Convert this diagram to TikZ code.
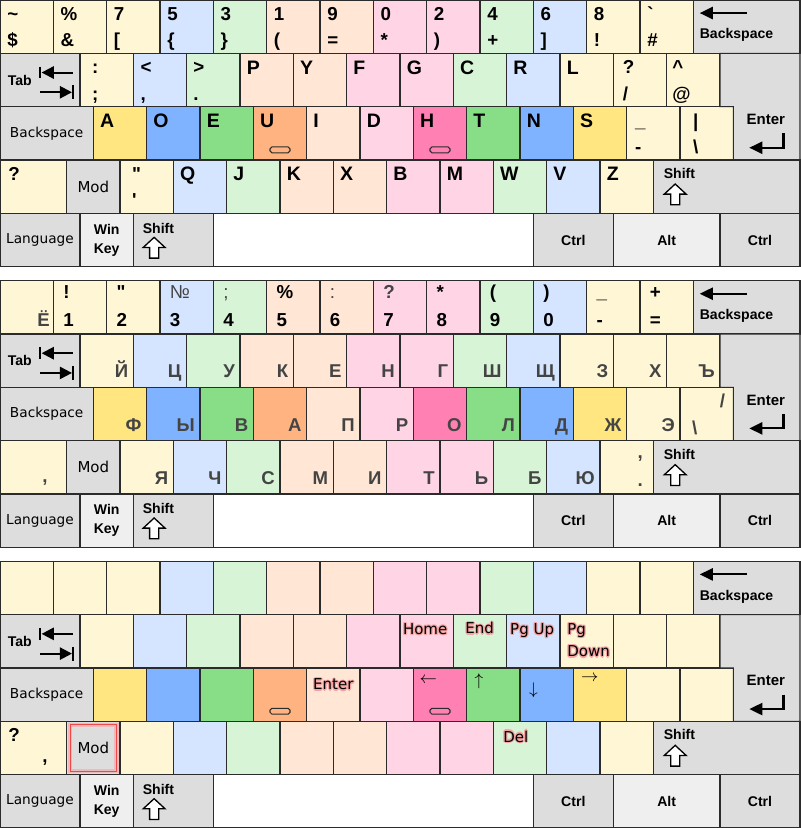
\documentclass[tikz,border=0pt]{standalone}
\usepackage{fontspec}
\setmainfont{Liberation Sans}
\newfontfamily\vfont{DejaVu Sans}
\usetikzlibrary{positioning,calc,arrows.meta}
\tikzset{>=latex}

\definecolor{ylw}{HTML}{FFF6D5}
\definecolor{blu}{HTML}{D5E5FF}
\definecolor{grn}{HTML}{D7F4D7}
\definecolor{pch}{HTML}{FFE6D5}
\definecolor{pnk}{HTML}{FFD5E5}
\definecolor{ylwD}{HTML}{FFE680}
\definecolor{bluD}{HTML}{80B3FF}
\definecolor{grnD}{HTML}{87DE87}
\definecolor{orgD}{HTML}{FFB380}
\definecolor{pnkD}{HTML}{FF80B2}
\definecolor{gry}{HTML}{DDDDDD}
\definecolor{lgry}{HTML}{EFEFEF}
\definecolor{keyline}{HTML}{2B2B2B}
\definecolor{cyrgray}{HTML}{444444}
\definecolor{glow}{HTML}{F5A3A3}
\definecolor{hlred}{HTML}{F04848}

% black text with a soft red halo
\newcommand{\halo}[1]{\leavevmode
  \rlap{\color{glow}\kern.65pt#1}\rlap{\color{glow}\kern-.65pt#1}%
  \rlap{\color{glow}\raisebox{.65pt}{#1}}\rlap{\color{glow}\raisebox{-.65pt}{#1}}%
  \rlap{\color{glow}\kern.45pt\raisebox{.45pt}{#1}}\rlap{\color{glow}\kern-.45pt\raisebox{.45pt}{#1}}%
  \rlap{\color{glow}\kern.45pt\raisebox{-.45pt}{#1}}\rlap{\color{glow}\kern-.45pt\raisebox{-.45pt}{#1}}#1}

\tikzset{
  key/.style={draw=keyline, line width=.55pt, inner sep=0pt, outer sep=0pt, minimum height=1cm},
  sym/.style={inner sep=0pt, anchor=base west, font=\bfseries\fontsize{10}{12}\selectfont},
  ltr/.style={inner sep=0pt, anchor=base west, font=\bfseries\fontsize{10.4}{12}\selectfont},
  cyr/.style={inner sep=0pt, anchor=base east, text=cyrgray, font=\bfseries\fontsize{9.9}{12}\selectfont},
  small/.style={inner sep=0pt, font=\bfseries\fontsize{7.5}{10}\selectfont},
  soft/.style={inner sep=0pt, font=\vfont\fontsize{7.3}{9}\selectfont},
  func/.style={inner sep=0pt, anchor=base west, font=\vfont\fontsize{8}{10}\selectfont},
  arw/.style={inner sep=0pt, font=\fontsize{9}{11}\selectfont},
  bump/.style={draw=keyline, line width=.55pt, rounded corners=1pt, inner sep=0pt,
    minimum width=0.375cm, minimum height=0.11cm},
  hl/.style={draw=hlred, line width=.6pt, inner sep=0pt,
    preaction={draw=glow, line width=2.4pt, opacity=.6}},
  tip/.style={-{Triangle[length=7pt,width=6.5pt]}},
  shiftup/.pic={\draw[line width=.7pt, fill=white, line join=miter]
    (0,0) -- (0.205,-0.19) -- (0.085,-0.19) -- (0.085,-0.39) -- (-0.085,-0.39)
    -- (-0.085,-0.19) -- (-0.205,-0.19) -- cycle;}
}

\begin{document}
\begin{tikzpicture}
\useasboundingbox (0,0) rectangle (15,-15.525);

% three keyboards, same keys and colours
\foreach \kb in {0,1,2} {
  \foreach \rw in {1,...,5}
    \coordinate (k\kb-\rw-0) at (0,{-\kb*5.2625-\rw+0.5});
  % number row
  \foreach \w/\cl [count=\n, remember=\n as \p (initially 0)] in
    {1/ylw,1/ylw,1/ylw,1/blu,1/grn,1/pch,1/pch,1/pnk,1/pnk,1/grn,1/blu,1/ylw,1/ylw,2/gry}
    \node[key, fill=\cl, minimum width=\w cm, right=0pt of k\kb-1-\p] (k\kb-1-\n) {};
  % upper row
  \foreach \w/\cl [count=\n, remember=\n as \p (initially 0)] in
    {1.5/gry,1/ylw,1/blu,1/grn,1/pch,1/pch,1/pnk,1/pnk,1/grn,1/blu,1/ylw,1/ylw,1/ylw}
    \node[key, fill=\cl, minimum width=\w cm, right=0pt of k\kb-2-\p] (k\kb-2-\n) {};
  % home row
  \foreach \w/\cl [count=\n, remember=\n as \p (initially 0)] in
    {1.75/gry,1/ylwD,1/bluD,1/grnD,1/orgD,1/pch,1/pnk,1/pnkD,1/grnD,1/bluD,1/ylwD,1/ylw,1/ylw}
    \node[key, fill=\cl, minimum width=\w cm, right=0pt of k\kb-3-\p] (k\kb-3-\n) {};
  \node[key, draw=none, minimum width=1.25cm, right=0pt of k\kb-3-13] (k\kb-3-14) {};
  \draw[draw=keyline, line width=.55pt, fill=gry] (k\kb-2-13.north east) -| (k\kb-3-14.south east)
    -| (k\kb-3-14.north west) -- (k\kb-2-13.south east) -- cycle;
  % lower row
  \foreach \w/\cl [count=\n, remember=\n as \p (initially 0)] in
    {1.25/ylw,1/gry,1/ylw,1/blu,1/grn,1/pch,1/pch,1/pnk,1/pnk,1/grn,1/blu,1/ylw,2.75/gry}
    \node[key, fill=\cl, minimum width=\w cm, right=0pt of k\kb-4-\p] (k\kb-4-\n) {};
  % bottom row
  \foreach \w/\cl [count=\n, remember=\n as \p (initially 0)] in
    {1.5/gry,1/lgry,1.5/gry,6/white,1.5/gry,2/lgry,1.5/gry}
    \node[key, fill=\cl, minimum width=\w cm, right=0pt of k\kb-5-\p] (k\kb-5-\n) {};

  % Backspace
  \begin{scope}[shift={(k\kb-1-14.north west)}]
    \draw[line width=1.1pt, tip] (1.0,-0.245) -- (0.12,-0.245);
    \node[small] (bs\kb) at (0.81,-0.66) {Backspace};
  \end{scope}
  % Tab
  \begin{scope}[shift={(k\kb-2-1.north west)}]
    \node[small] (tab\kb) at (0.37,-0.5) {Tab};
    \draw[line width=1.1pt] (0.75,-0.25) -- (0.75,-0.47);
    \draw[line width=1.1pt, -{Triangle[length=6.5pt,width=6.5pt]}] (1.37,-0.36) -- (0.78,-0.36);
    \draw[line width=1.1pt, -{Triangle[length=6.5pt,width=6.5pt]}] (0.75,-0.73) -- (1.35,-0.73);
    \draw[line width=1.1pt] (1.37,-0.6) -- (1.37,-0.86);
  \end{scope}
  % Enter
  \begin{scope}[shift={(k\kb-3-14.north west)}]
    \node[small, font=\bfseries\fontsize{8}{10}\selectfont] (ent\kb) at (0.61,-0.24) {Enter};
    \draw[line width=1.1pt, tip] (0.94,-0.5) |- (0.3,-0.77);
  \end{scope}
  % Shift keys
  \begin{scope}[shift={(k\kb-4-13.north west)}]
    \node[small] (shr\kb) at (0.49,-0.25) {Shift};
    \pic at (0.41,-0.45) {shiftup};
  \end{scope}
  \begin{scope}[shift={(k\kb-5-3.north west)}]
    \node[small] (shl\kb) at (0.47,-0.275) {Shift};
    \pic at (0.39,-0.45) {shiftup};
  \end{scope}
  \node[soft] (bk\kb) at (k\kb-3-1) {Backspace};
  \node[soft, font=\vfont\fontsize{8}{10}\selectfont] (mod\kb) at (k\kb-4-2) {Mod};
  \node[soft] (lang\kb) at (k\kb-5-1) {Language};
  \node[small, align=center] (win\kb) at (k\kb-5-2) {Win\\Key};
  \node[small] (ctl\kb) at (k\kb-5-5) {Ctrl};
  \node[small] (alt\kb) at (k\kb-5-6) {Alt};
  \node[small] (ctr\kb) at (k\kb-5-7) {Ctrl};
}

% home-row bumps
\foreach \kb in {0,2}
  \foreach \n in {5,8}
    \node[bump] (bp\kb-\n) at ($(k\kb-3-\n.south)+(0,0.19)$) {};

% ---- keyboard 1: Latin labels
\foreach \ta/\tb [count=\n] in {{\textasciitilde}/{\$},{\%}/{\&},{7}/{[},{5}/{\{},{3}/{\}},{1}/{(},{9}/{=},
    {0}/{*},{2}/{)},{4}/{+},{6}/{]},{8}/{!},{\textasciigrave}/{\#}} {
  \node[sym] (a0-1-\n) at ($(k0-1-\n.north west)+(0.13,-0.385)$) {\ta};
  \node[sym] (b0-1-\n) at ($(k0-1-\n.north west)+(0.13,-0.875)$) {\tb};
}
\foreach \rw/\n/\dx/\ta/\tb in {2/2/0.22/{:}/{;},2/3/0.13/{<}/{,},2/4/0.12/{>}/{.},2/12/0.17/{?}/{/},
    2/13/0.1/{\textasciicircum}/{@},3/12/0.15/{\_}/{-},3/13/0.24/{\textbar}/{\textbackslash},
    4/3/0.22/{\textquotedbl}/{\textquotesingle}} {
  \node[sym] (a0-\rw-\n) at ($(k0-\rw-\n.north west)+(\dx,-0.385)$) {\ta};
  \node[sym] (b0-\rw-\n) at ($(k0-\rw-\n.north west)+(\dx,-0.875)$) {\tb};
}
\foreach \rw/\n/\ch in {2/5/P,2/6/Y,2/7/F,2/8/G,2/9/C,2/10/R,2/11/L,
    3/2/A,3/3/O,3/4/E,3/5/U,3/6/I,3/7/D,3/8/H,3/9/T,3/10/N,3/11/S,
    4/4/Q,4/5/J,4/6/K,4/7/X,4/8/B,4/9/M,4/10/W,4/11/V,4/12/Z}
  \node[ltr] (l0-\rw-\n) at ($(k0-\rw-\n.north west)+(0.12,-0.39)$) {\ch};
\node[sym] (a0-4-1) at ($(k0-4-1.north west)+(0.15,-0.385)$) {?};

% ---- keyboard 2: Cyrillic labels
\node[cyr] (c1-1-1) at ($(k1-1-1.south east)+(-0.06,0.14)$) {Ё};
\foreach \ta/\tb/\cl [count=\n from 2] in {{!}/{1}/black,{\textquotedbl}/{2}/black,{\mdseries №}/{3}/cyrgray,
    {\mdseries ;}/{4}/cyrgray,{\%}/{5}/black,{\mdseries :}/{6}/cyrgray,{?}/{7}/cyrgray,{*}/{8}/black,
    {(}/{9}/black,{)}/{0}/black,{\_}/{-}/black,{+}/{=}/black} {
  \node[sym, text=\cl] (a1-1-\n) at ($(k1-1-\n.north west)+(0.18,-0.33)$) {\ta};
  \node[sym] (b1-1-\n) at ($(k1-1-\n.north west)+(0.18,-0.855)$) {\tb};
}
\foreach \rw/\n/\ch in {2/2/Й,2/3/Ц,2/4/У,2/5/К,2/6/Е,2/7/Н,2/8/Г,2/9/Ш,2/10/Щ,2/11/З,2/12/Х,2/13/Ъ,
    3/2/Ф,3/3/Ы,3/4/В,3/5/А,3/6/П,3/7/Р,3/8/О,3/9/Л,3/10/Д,3/11/Ж,3/12/Э,
    4/3/Я,4/4/Ч,4/5/С,4/6/М,4/7/И,4/8/Т,4/9/Ь,4/10/Б,4/11/Ю}
  \node[cyr] (c1-\rw-\n) at ($(k1-\rw-\n.south east)+(-0.09,0.18)$) {\ch};
\node[sym, anchor=base east, text=cyrgray] (a1-3-13) at ($(k1-3-13.north east)+(-0.15,-0.37)$) {/};
\node[sym, text=cyrgray] (b1-3-13) at ($(k1-3-13.north west)+(0.22,-0.89)$) {\textbackslash};
\node[sym, anchor=base east, text=cyrgray] (b1-4-1) at ($(k1-4-1.north east)+(-0.35,-0.78)$) {,};
\node[sym, text=cyrgray] (a1-4-12) at ($(k1-4-12.north west)+(0.7,-0.33)$) {,};
\node[sym, text=cyrgray] (b1-4-12) at ($(k1-4-12.north west)+(0.7,-0.86)$) {.};

% ---- keyboard 3: Mod layer
\node[func] (f2-2-8) at ($(k2-2-8.north west)+(0.05,-0.37)$) {\halo{Home}};
\node[func] (f2-2-9) at ($(k2-2-9.north west)+(0.22,-0.36)$) {\halo{End}};
\node[func] (f2-2-10) at ($(k2-2-10.north west)+(0.06,-0.37)$) {\halo{Pg Up}};
\node[func] (f2-2-11) at ($(k2-2-11.north west)+(0.13,-0.37)$) {\halo{Pg}};
\node[func] (g2-2-11) at ($(k2-2-11.north west)+(0.13,-0.79)$) {\halo{Down}};
\node[func, anchor=base] (f2-3-6) at ($(k2-3-6.north)+(0,-0.41)$) {\halo{Enter}};
\node[func] (f2-4-10) at ($(k2-4-10.north west)+(0.18,-0.39)$) {\halo{Del}};
\node[arw] (r2-3-8) at ($(k2-3-8.north west)+(0.28,-0.24)$) {$\leftarrow$};
\node[arw] (r2-3-9) at ($(k2-3-9.north west)+(0.23,-0.25)$) {$\uparrow$};
\node[arw] (r2-3-10) at ($(k2-3-10.north west)+(0.25,-0.41)$) {$\downarrow$};
\node[arw] (r2-3-11) at ($(k2-3-11.north west)+(0.31,-0.19)$) {$\rightarrow$};
\node[sym] (a2-4-1) at ($(k2-4-1.north west)+(0.15,-0.385)$) {?};
\node[sym, anchor=base east] (b2-4-1) at ($(k2-4-1.north east)+(-0.35,-0.78)$) {,};
\node[hl, minimum size=0.87cm] (modhl) at (k2-4-2) {};
\end{tikzpicture}
\end{document}
